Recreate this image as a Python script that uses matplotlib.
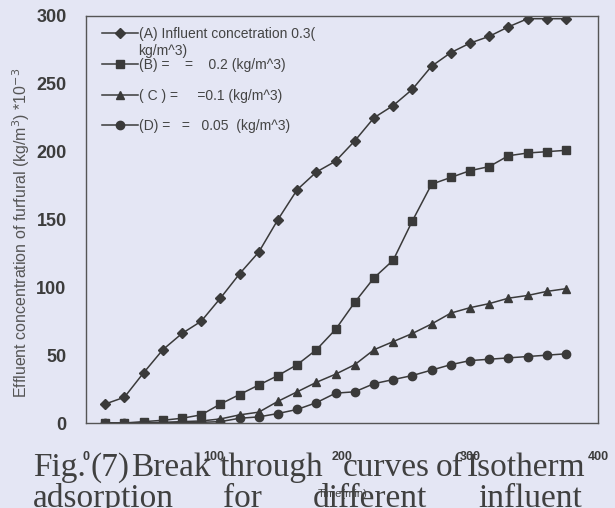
import matplotlib.pyplot as plt

# breakthrough data, time in minutes, effluent concentration *10^-3 kg/m^3
time = [15, 30, 45, 60, 75, 90, 105, 120, 135, 150, 165, 180, 195,
        210, 225, 240, 255, 270, 285, 300, 315, 330, 345, 360, 375]
conc_a = [14, 19, 37, 54, 66, 75, 92, 110, 126, 150, 172, 185, 193,
          208, 225, 234, 246, 263, 273, 280, 285, 292, 298, 298, 298]
conc_b = [0, 0, 1, 2, 3.5, 6, 14, 21, 28, 35, 43, 54, 69,
          89, 107, 120, 149, 176, 181, 186, 189, 197, 199, 200, 201]
conc_c = [0, 0, 0, 0.5, 1, 1.5, 3, 6, 8, 16, 23, 30, 36,
          43, 54, 60, 66, 73, 81, 85, 88, 92, 94, 97, 99]
conc_d = [0, 0, 0, 0, 0.5, 0.5, 1, 3.5, 4.5, 7, 10, 15, 22,
          23, 29, 32, 35, 39, 43, 46, 47, 48, 49, 50, 51]

labels = ["(A) Influent concetration 0.3(",
          "(B) =    =    0.2 (kg/m^3)",
          "( C ) =     =0.1 (kg/m^3)",
          "(D) =   =   0.05  (kg/m^3)"]

caption_1 = [("Fig.", 33), ("(7)", 90), ("Break", 131), ("through", 220),
             ("curves", 343), ("of", 436), ("Isotherm", 467)]
caption_2 = [("adsorption", 33), ("for", 223), ("different", 313), ("influent", 478)]

bg = "#e4e6f4"
ink = "#3a3a3a"

plt.rcParams['font.family'] = ['Liberation Sans', 'DejaVu Sans']

fig = plt.figure(figsize=(6.15, 5.08), dpi=100, facecolor=bg)
ax = fig.add_axes([86 / 615, 1 - 423 / 508, 512 / 615, 407 / 508], facecolor=bg)

series = [(conc_a, "D", 5.5), (conc_b, "s", 6), (conc_c, "^", 6), (conc_d, "o", 6)]
for (vals, mk, ms), lab in zip(series, labels):
    ax.plot(time, vals, color=ink, lw=1.1, marker=mk, markersize=ms,
            markerfacecolor=ink, markeredgecolor=ink, label=lab)

ax.set_xlim(0, 400)
ax.set_ylim(0, 300)
ax.set_xticks([0, 100, 200, 300, 400])
ax.set_yticks([0, 50, 100, 150, 200, 250, 300])
ax.tick_params(axis="y", length=0, pad=14, labelsize=13, labelcolor="#3c3c3c")
ax.tick_params(axis="x", length=0, pad=20, labelsize=9, labelcolor="#3c3c3c")
for t in ax.get_xticklabels() + ax.get_yticklabels():
    t.set_fontweight("bold")
for s in ax.spines.values():
    s.set_color("#555")
    s.set_linewidth(1.0)

fig.text(21 / 615, 1 - 233 / 508,
         "Effluent concentration of furfural (kg/m$^3$) *10$^{-3}$",
         rotation=90, fontsize=11.5, color="#555", ha="center", va="center")
fig.text(343 / 615, 1 - 494 / 508, "Time(min)", fontsize=8, color="#444",
         ha="center", va="center")

ax.legend(loc="upper left", bbox_to_anchor=(0.006, 1.003), frameon=False,
          fontsize=10, handlelength=2.6, handletextpad=0.1,
          labelspacing=1.2, labelcolor="#444")
fig.text(138 / 615, 1 - 51 / 508, "kg/m^3)", fontsize=10, color="#444",
         ha="left", va="center")

# caption printed across the lower part of the page
cap = dict(family=["Liberation Serif", "DejaVu Serif"], fontsize=24, color="#404040")
for word, x in caption_1:
    fig.text(x / 615, 1 - 476 / 508, word, ha="left", va="baseline", **cap)
for word, x in caption_2:
    fig.text(x / 615, 1 - 507 / 508, word, ha="left", va="baseline", **cap)

fig.savefig("out.png", dpi=100, facecolor=bg)
